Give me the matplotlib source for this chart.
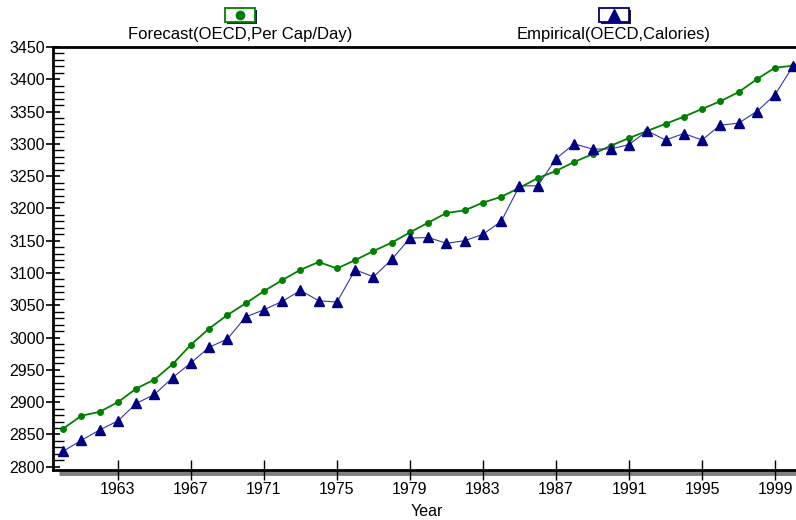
import numpy as np
import matplotlib.pyplot as plt
from matplotlib.patches import Rectangle
from matplotlib.ticker import MultipleLocator

plt.rcParams['font.family'] = ['Liberation Sans', 'DejaVu Sans']

years = list(range(1960, 2001))

# forecast, per cap/day (green dots + line)
forecast = [2859, 2879, 2885, 2900, 2921, 2935, 2959, 2989, 3014, 3035,
            3053, 3072, 3089, 3105, 3117, 3107, 3120, 3134, 3147, 3163,
            3178, 3193, 3197, 3209, 3218, 3232, 3247, 3258, 3272, 3284,
            3297, 3309, 3320, 3331, 3342, 3354, 3366, 3380, 3400, 3418,
            3421]

# empirical calories (navy triangles)
empirical = [2824, 2841, 2857, 2871, 2898, 2912, 2938, 2961, 2985, 2998,
             3032, 3043, 3056, 3073, 3057, 3055, 3105, 3094, 3121, 3154,
             3155, 3146, 3150, 3160, 3180, 3235, 3235, 3277, 3300, 3292,
             3292, 3299, 3320, 3306, 3316, 3306, 3329, 3332, 3350, 3376,
             3421]

xticks = [1963, 1967, 1971, 1975, 1979, 1983, 1987, 1991, 1995, 1999]

green = '#008000'
navy = '#000080'

fig = plt.figure(figsize=(7.96, 5.2), dpi=100)
ax = fig.add_axes([53/796, 50/520, 743/796, 423/520])

ax.plot(years, forecast, color=green, lw=1.3, marker='o', ms=4,
        mec=green, mfc=green, clip_on=False, zorder=3)
ax.plot(years, empirical, color='#3535a5', lw=0.8, marker='^', ms=7,
        mec=navy, mfc=navy, clip_on=False, zorder=4)

ax.set_xlim(1959.44, 2000.15)
ax.set_ylim(2794.9, 3450)

ax.set_xticks(xticks)
ax.yaxis.set_major_locator(MultipleLocator(50))
ax.yaxis.set_minor_locator(MultipleLocator(10))
ax.tick_params(axis='y', which='major', direction='inout', length=10, width=1.2,
               labelsize=11.5, pad=1)
ax.tick_params(axis='y', which='minor', direction='in', length=8, width=1)
ax.tick_params(axis='x', which='major', direction='inout', length=14, width=1,
               labelsize=11.5, pad=2)

for s in ['left', 'top', 'bottom']:
    ax.spines[s].set_linewidth(2)
ax.spines['right'].set_visible(False)

# grey shadow under x axis
ax.plot([0.008, 1.0], [-0.008, -0.008], transform=ax.transAxes, color='#808080',
        lw=3.5, clip_on=False, zorder=1, solid_capstyle='butt')

ax.set_xlabel('Year', fontsize=11.5)
ax.xaxis.set_label_coords((427 - 53) / 743, -0.08)

# legend boxes at top
def legend_icon(cx, cy, marker, color, label):
    w, h = 30, 14
    x0 = (cx - w/2) / 796
    y0 = 1 - (cy + h/2) / 520
    fig.patches.append(Rectangle((x0 + 2/796, y0 - 2/520), w/796, h/520,
                                 transform=fig.transFigure, facecolor='#202020',
                                 edgecolor='none'))
    fig.patches.append(Rectangle((x0, y0), w/796, h/520, transform=fig.transFigure,
                                 facecolor='white', edgecolor=color, lw=1.3))
    fig.lines.append(plt.Line2D([cx/796], [1 - cy/520], marker=marker, color=color,
                                ms=6 if marker == 'o' else 8, transform=fig.transFigure))
    fig.text(cx/796, 1 - 35/520, label, ha='center', va='center', fontsize=12)

legend_icon(240, 15, 'o', green, 'Forecast(OECD,Per Cap/Day)')
legend_icon(614, 15, '^', navy, 'Empirical(OECD,Calories)')

fig.savefig('out.png', dpi=100)
